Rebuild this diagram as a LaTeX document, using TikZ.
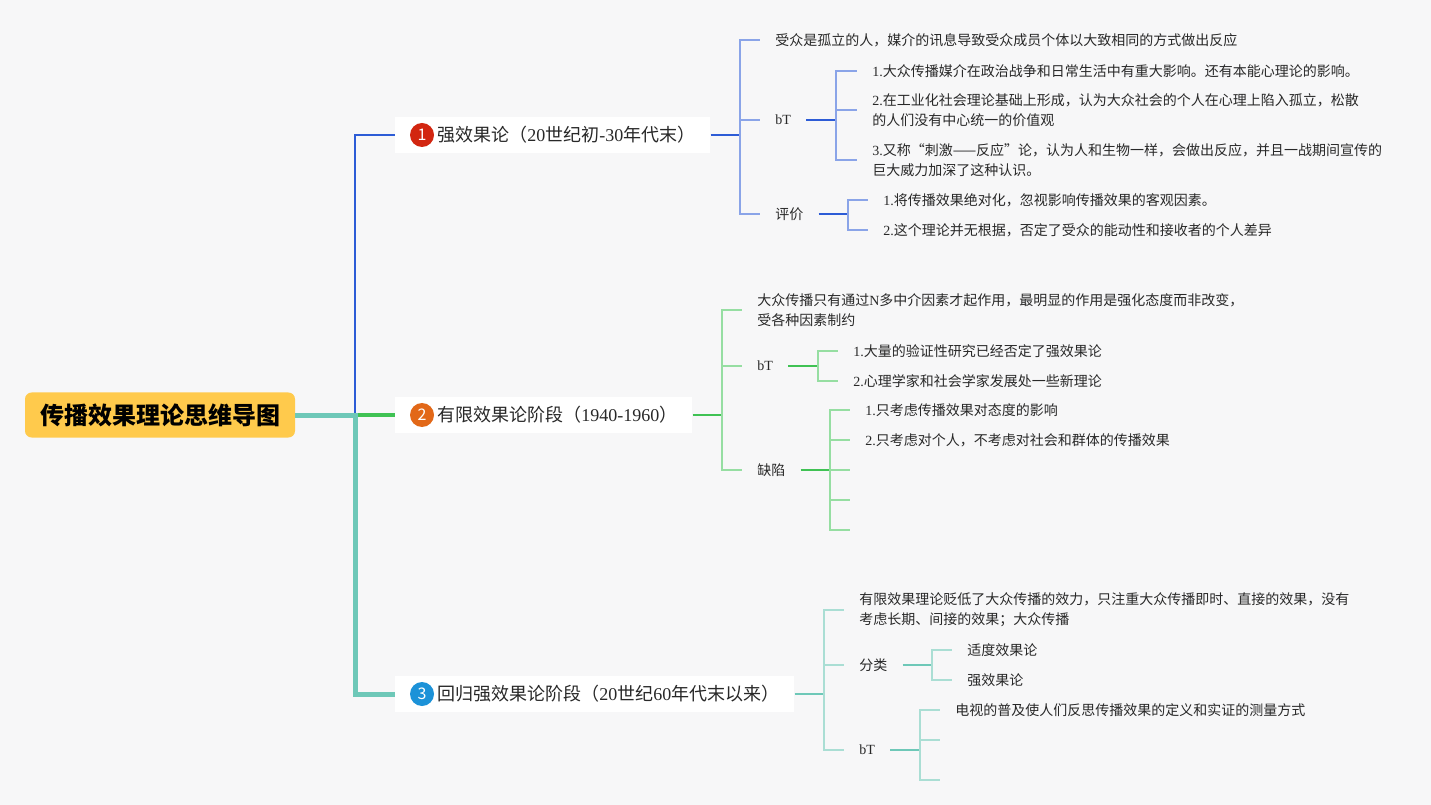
\documentclass[tikz,border=0pt]{standalone}
\usepackage{fontspec}
\setmainfont{Noto Sans CJK SC}
\newfontfamily\latin{Liberation Serif}
\newcommand{\lt}[1]{{\latin #1}}
\usepackage{tikz}
\usetikzlibrary{positioning}
\usepackage{xcolor}
\definecolor{mmbg}{RGB}{247,247,248}
\definecolor{mmtext}{RGB}{40,40,40}
\definecolor{mmyellow}{RGB}{255,202,76}
\definecolor{mmblue}{RGB}{45,92,214}
\definecolor{mmbluelt}{RGB}{138,164,232}
\definecolor{mmgreen}{RGB}{64,194,84}
\definecolor{mmgreenlt}{RGB}{150,222,162}
\definecolor{mmteal}{RGB}{110,200,184}
\definecolor{mmteallt}{RGB}{170,222,212}
\definecolor{mmred}{RGB}{210,38,16}
\definecolor{mmorange}{RGB}{226,104,24}
\definecolor{mmsky}{RGB}{28,146,216}

\begin{document}
\begin{tikzpicture}[
    x=0.75pt, y=-0.75pt,
    every node/.style={font=\fontsize{10.5}{15}\selectfont, text=mmtext},
    root/.style={rectangle, rounded corners=5pt, fill=mmyellow, minimum width=202.5pt, minimum height=33.75pt, font=\fontsize{18}{20}\selectfont\bfseries, text=black},
    topic/.style={rectangle, fill=white, anchor=west, minimum height=27pt, inner xsep=11.25pt, font=\fontsize{13.5}{16}\selectfont},
    icon/.style={circle, minimum size=18pt, inner sep=0pt, text=white, font=\fontsize{12}{12}\selectfont},
    leaf/.style={anchor=west, align=left, inner xsep=11.25pt, inner ysep=2pt},
    dk1/.style={mmblue, line width=1.5pt}, lt1/.style={mmbluelt, line width=1.5pt},
    dk2/.style={mmgreen, line width=1.5pt}, lt2/.style={mmgreenlt, line width=1.5pt},
    dk3/.style={mmteal, line width=1.5pt}, lt3/.style={mmteallt, line width=1.5pt}
]
\useasboundingbox[fill=mmbg] (0,0) rectangle (1431,805);

% Central node
\node[root] (root) at (160,415) {传播效果理论思维导图};
\coordinate (j0) at (355,415);

% Main topics
\node[topic] (b1) at (395,135) {\hspace{20.25pt}强效果论（\lt{20}世纪初\lt{-30}年代末）};
\node[topic] (b2) at (395,415) {\hspace{20.25pt}有限效果论阶段（\lt{1940-1960}）};
\node[topic] (b3) at (395,694) {\hspace{20.25pt}回归强效果论阶段（\lt{20}世纪\lt{60}年代末以来）};
\node[icon, fill=mmred] (i1) at ([xshift=20.25pt]b1.west) {1};
\node[icon, fill=mmorange] (i2) at ([xshift=20.25pt]b2.west) {2};
\node[icon, fill=mmsky] (i3) at ([xshift=20.25pt]b3.west) {3};

\draw[mmblue, line width=1.5pt] (j0) |- (b1.west);
\draw[mmgreen, line width=2.5pt] (j0) -- (b2.west);
\draw[mmteal, line width=3.75pt] (root.east) -- (j0) |- (b3.west);

% Topic 1
\coordinate (j1) at (740,135);
\node[leaf] (a1) at (760,40) {受众是孤立的人，媒介的讯息导致受众成员个体以大致相同的方式做出反应};
\node[leaf] (a2) at (760,120) {\lt{bT}};
\node[leaf] (a3) at (760,214) {评价};
\coordinate (j11) at (836,120);
\node[leaf] (a21) at (857,71) {\lt{1.}大众传播媒介在政治战争和日常生活中有重大影响。还有本能心理论的影响。};
\node[leaf] (a22) at (857,110) {\lt{2.}在工业化社会理论基础上形成，认为大众社会的个人在心理上陷入孤立，松散\\的人们没有中心统一的价值观};
\node[leaf] (a23) at (857,160) {\lt{3.}又称“刺激——反应”论，认为人和生物一样，会做出反应，并且一战期间宣传的\\巨大威力加深了这种认识。};
\coordinate (j12) at (848,214);
\node[leaf] (a31) at (868,200) {\lt{1.}将传播效果绝对化，忽视影响传播效果的客观因素。};
\node[leaf] (a32) at (868,230) {\lt{2.}这个理论并无根据，否定了受众的能动性和接收者的个人差异};

\draw[dk1] (b1.east) -- (j1);
\draw[lt1] (j1) |- (a1.west);
\draw[lt1] (j1) |- (a2.west);
\draw[lt1] (j1) |- (a3.west);
\draw[dk1] (a2.east) -- (j11);
\draw[lt1] (j11) |- (a21.west);
\draw[lt1] (j11) |- (a22.west);
\draw[lt1] (j11) |- (a23.west);
\draw[dk1] (a3.east) -- (j12);
\draw[lt1] (j12) |- (a31.west);
\draw[lt1] (j12) |- (a32.west);

% Topic 2
\coordinate (j2) at (722,415);
\node[leaf] (c1) at (742,310) {大众传播只有通过\lt{N}多中介因素才起作用，最明显的作用是强化态度而非改变，\\受各种因素制约};
\node[leaf] (c2) at (742,366) {\lt{bT}};
\node[leaf] (c3) at (742,470) {缺陷};
\coordinate (j21) at (818,366);
\node[leaf] (c21) at (838,351) {\lt{1.}大量的验证性研究已经否定了强效果论};
\node[leaf] (c22) at (838,381) {\lt{2.}心理学家和社会学家发展处一些新理论};
\coordinate (j22) at (830,470);
\node[leaf] (c31) at (850,410) {\lt{1.}只考虑传播效果对态度的影响};
\node[leaf] (c32) at (850,440) {\lt{2.}只考虑对个人，不考虑对社会和群体的传播效果};
\coordinate (e1) at (850,470);
\coordinate (e2) at (850,500);
\coordinate (e3) at (850,530);

\draw[dk2] (b2.east) -- (j2);
\draw[lt2] (j2) |- (c1.west);
\draw[lt2] (j2) |- (c2.west);
\draw[lt2] (j2) |- (c3.west);
\draw[dk2] (c2.east) -- (j21);
\draw[lt2] (j21) |- (c21.west);
\draw[lt2] (j21) |- (c22.west);
\draw[dk2] (c3.east) -- (j22);
\draw[lt2] (j22) |- (c31.west);
\draw[lt2] (j22) |- (c32.west);
\draw[lt2] (j22) -- (e1);
\draw[lt2] (j22) |- (e2);
\draw[lt2] (j22) |- (e3);

% Topic 3
\coordinate (j3) at (824,694);
\node[leaf] (d1) at (844,610) {有限效果理论贬低了大众传播的效力，只注重大众传播即时、直接的效果，没有\\考虑长期、间接的效果；大众传播};
\node[leaf] (d2) at (844,665) {分类};
\node[leaf] (d3) at (844,750) {\lt{bT}};
\coordinate (j31) at (932,665);
\node[leaf] (d21) at (952,650) {适度效果论};
\node[leaf] (d22) at (952,680) {强效果论};
\coordinate (j32) at (920,750);
\node[leaf] (d31) at (940,710) {电视的普及使人们反思传播效果的定义和实证的测量方式};
\coordinate (f1) at (940,740);
\coordinate (f2) at (940,780);

\draw[dk3] (b3.east) -- (j3);
\draw[lt3] (j3) |- (d1.west);
\draw[lt3] (j3) |- (d2.west);
\draw[lt3] (j3) |- (d3.west);
\draw[dk3] (d2.east) -- (j31);
\draw[lt3] (j31) |- (d21.west);
\draw[lt3] (j31) |- (d22.west);
\draw[dk3] (d3.east) -- (j32);
\draw[lt3] (j32) |- (d31.west);
\draw[lt3] (j32) |- (f1);
\draw[lt3] (j32) |- (f2);

\end{tikzpicture}
\end{document}
